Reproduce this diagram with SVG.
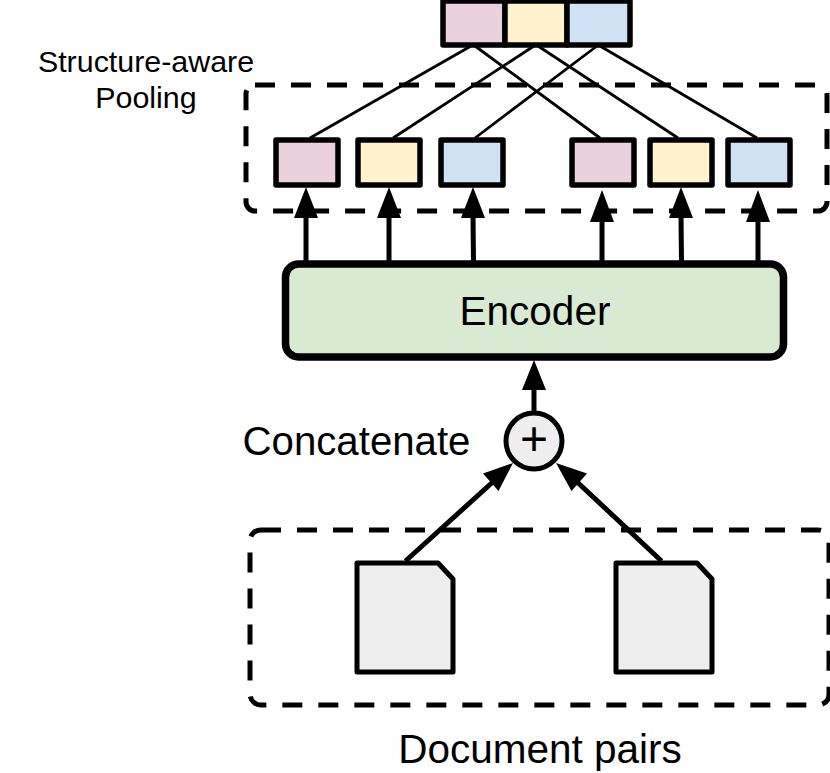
<svg xmlns="http://www.w3.org/2000/svg" width="830" height="773" viewBox="0 0 830 773">
<style>
.b{stroke:#000;stroke-width:5.500;stroke-linejoin:round}
.p{fill:#ead1dc}.y{fill:#fff2cc}.c{fill:#cfe2f3}
.d{fill:none;stroke:#000;stroke-width:5;stroke-dasharray:20 16}
.t{stroke:#000;stroke-width:2.800;fill:none}
.a{stroke:#000;stroke-width:5;fill:none}
.h{fill:#000}
.doc{fill:#eee;stroke:#000;stroke-width:5;stroke-linejoin:round}
text{font-family:"Liberation Sans",Arial,sans-serif;fill:#000;text-anchor:middle}
</style>
<g id="pool-group"><rect class="d" x="246" y="85" width="581" height="126" rx="9"/></g>
<g id="doc-group"><rect class="d" x="250" y="530" width="579" height="175" rx="11"/></g>
<g id="connectors">
<path class="t" d="M471 46L310 138M475 46L600 138M534 46L393 138M538 46L678 138M597 46L475 138M600 46L757 138"/>
<path class="a" d="M306 262V215M389 262V215M473.500 262L473 215M602 262V219M681.500 262L681 215M758 262V219M534 411V385M405.500 561L495 480M661.500 561L575 480"/>
<path class="h" d="M306 187L318 218H294ZM389 187L401 218H377ZM473 187L485 218H461ZM602 190L614 222H590ZM681 187L693 218H669ZM758 190L770 222H746ZM534 360L546 390H522ZM513 463L498.500 491L483 473.500ZM556 463L587 473.500L571.500 491Z"/>
</g>
<g id="top-pink"><rect class="b p" x="443" y="1" width="62" height="44"/></g>
<g id="top-yellow"><rect class="b y" x="505" y="1" width="62" height="44"/></g>
<g id="top-blue"><rect class="b c" x="567" y="1" width="63" height="44"/></g>
<g id="mid-1"><rect class="b p" x="276" y="140" width="62" height="45"/></g>
<g id="mid-2"><rect class="b y" x="358" y="140" width="62" height="45"/></g>
<g id="mid-3"><rect class="b c" x="441" y="140" width="62" height="45"/></g>
<g id="mid-4"><rect class="b p" x="572" y="140" width="62" height="45"/></g>
<g id="mid-5"><rect class="b y" x="650" y="140" width="62" height="45"/></g>
<g id="mid-6"><rect class="b c" x="728" y="140" width="62" height="45"/></g>
<g id="encoder"><rect x="285.500" y="264" width="498" height="93" rx="13" fill="#d9ead3" stroke="#000" stroke-width="7.500"/><text x="535" y="325" font-size="40.500">Encoder</text></g>
<g id="concat"><circle cx="534" cy="441" r="28" fill="#eee" stroke="#000" stroke-width="5"/><text x="534" y="455" font-size="48">+</text></g>
<g id="doc-1"><path class="doc" d="M357 563H438L453 579V672H357Z"/></g>
<g id="doc-2"><path class="doc" d="M616 563H697L712 579V672H616Z"/></g>
<g id="labels">
<text x="146" y="72" font-size="30.400">Structure-aware</text>
<text x="146" y="108" font-size="30.400">Pooling</text>
<text x="356.500" y="455" font-size="40.200">Concatenate</text>
<text x="540" y="763" font-size="40.500">Document pairs</text>
</g>
</svg>
